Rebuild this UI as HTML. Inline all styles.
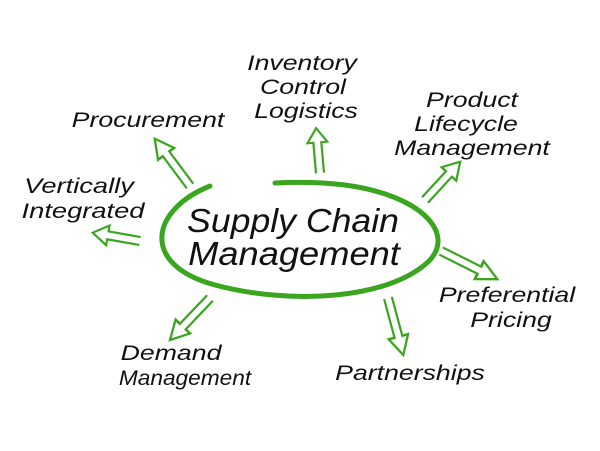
<!DOCTYPE html>
<html><head><meta charset="utf-8"><style>
html,body{margin:0;padding:0;background:#fff;}
svg{display:block}
text{font-family:"Liberation Sans",sans-serif;font-style:italic;fill:#111;text-anchor:middle;}
</style></head><body>
<svg width="600" height="451" viewBox="0 0 600 451" xmlns="http://www.w3.org/2000/svg">
<defs>
<path id="a" d="M-4,0 L-4,-34 L-10,-34 L0,-50 L10,-34 L4,-34 L4,0" fill="none" stroke="#3aa51f" stroke-width="2.2" stroke-linejoin="miter"/>
</defs>
<path d="M210,186 C150,210 140,265 215,285 C290,305 390,300 430,260 C455,232 420,195 345,185 C320,182 295,182 275,183" fill="none" stroke="#3aa51f" stroke-width="5" stroke-linecap="round"/>
<g transform="translate(190,186) rotate(-36.7) scale(1,1.18)"><use href="#a"/></g>
<g transform="translate(320,173) rotate(-5) scale(1,0.9)"><use href="#a"/></g>
<g transform="translate(425,200) rotate(42.6) scale(1,1.04)"><use href="#a"/></g>
<g transform="translate(140,241) rotate(-80) scale(1,0.96)"><use href="#a"/></g>
<g transform="translate(441,251) rotate(116.6) scale(1,1.26)"><use href="#a"/></g>
<g transform="translate(388,298) rotate(165) scale(1,1.18)"><use href="#a"/></g>
<g transform="translate(210,298) rotate(-136.4) scale(1,1.16)"><use href="#a"/></g>
<g font-size="21">
<text transform="translate(148,127) scale(1.27,1)">Procurement</text>
<text transform="translate(302,70) scale(1.27,1)">Inventory</text>
<text transform="translate(303,94) scale(1.27,1)">Control</text>
<text transform="translate(306,118) scale(1.27,1)">Logistics</text>
<text transform="translate(472,107) scale(1.27,1)">Product</text>
<text transform="translate(466,131) scale(1.27,1)">Lifecycle</text>
<text transform="translate(472,155) scale(1.27,1)">Management</text>
<text transform="translate(79,193) scale(1.3,1)">Vertically</text>
<text transform="translate(83,218) scale(1.3,1)">Integrated</text>
<text transform="translate(507,302) scale(1.27,1)">Preferential</text>
<text transform="translate(511,327) scale(1.27,1)">Pricing</text>
<text transform="translate(171,360) scale(1.27,1)">Demand</text>
<text transform="translate(185,385) scale(1.08,1)">Management</text>
<text transform="translate(410,380) scale(1.27,1)">Partnerships</text>
</g>
<g font-size="33">
<text transform="translate(293,232) scale(1.08,1)">Supply Chain</text>
<text transform="translate(294,265) scale(1.1,1)">Management</text>
</g>
</svg>
</body></html>
